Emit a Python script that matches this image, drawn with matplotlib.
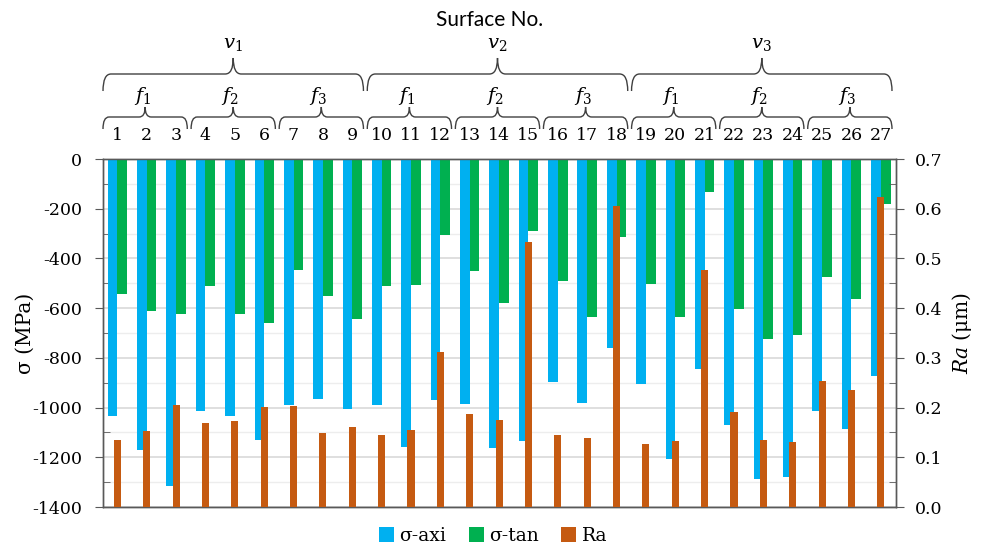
import numpy as np
import matplotlib.pyplot as plt
from matplotlib.path import Path
from matplotlib.patches import PathPatch
from matplotlib.transforms import blended_transform_factory

plt.rcParams['font.family'] = 'DejaVu Serif'
plt.rcParams['mathtext.fontset'] = 'dejavuserif'
plt.rcParams['axes.unicode_minus'] = False

# data
surfaces = [str(i) for i in range(1, 28)]
sigma_axi = [-1033, -1169, -1316, -1012, -1035, -1131, -989, -967, -1007,
             -988, -1158, -969, -984, -1162, -1135, -898, -981, -759,
             -905, -1205, -845, -1071, -1286, -1278, -1015, -1086, -874]
sigma_tan = [-545, -610, -625, -512, -625, -661, -448, -552, -643,
             -512, -505, -305, -450, -581, -289, -489, -635, -313,
             -502, -635, -134, -605, -726, -707, -475, -564, -182]
ra = [0.135, 0.152, 0.205, 0.168, 0.173, 0.202, 0.203, 0.148, 0.160,
      0.145, 0.155, 0.312, 0.187, 0.176, 0.534, 0.145, 0.138, 0.605,
      0.126, 0.132, 0.477, 0.192, 0.135, 0.131, 0.253, 0.235, 0.623]
f_labels = ['$f_1$', '$f_2$', '$f_3$'] * 3
v_labels = ['$v_1$', '$v_2$', '$v_3$']

c_axi = '#00B0F0'
c_tan = '#00B050'
c_ra = '#C55A11'

W, H = 983, 547
fig = plt.figure(figsize=(W / 100, H / 100), dpi=100)
ax = fig.add_axes([102.7 / W, 40 / H, 792.8 / W, 348 / H])
ax2 = ax.twinx()

x = np.arange(len(surfaces))
bw = 0.33
ax.bar(x - bw / 2, sigma_axi, bw, color=c_axi, label='σ-axi', zorder=3)
ax.bar(x + bw / 2, sigma_tan, bw, color=c_tan, label='σ-tan', zorder=3)
ax2.bar(x, ra, 0.24, color=c_ra, label='Ra', zorder=3)

ax.set_xlim(-0.5, 26.5)
ax.set_ylim(-1400, 0)
ax2.set_ylim(0, 0.7)
ax.set_xticks([])
ax.set_yticks(np.arange(-1400, 1, 200))
ax.set_yticks(np.arange(-1300, 0, 200), minor=True)
ax2.set_yticks(np.arange(0, 0.71, 0.1))
ax2.set_yticks(np.arange(0.05, 0.7, 0.1), minor=True)
ax2.set_yticklabels([f'{v:.1f}' for v in np.arange(0, 0.71, 0.1)])

ax.grid(axis='y', which='major', color='#D9D9D9', lw=1.2, zorder=0)
ax.grid(axis='y', which='minor', color='#EDEDED', lw=1.0, zorder=0)
ax.set_axisbelow(True)

for a in (ax, ax2):
    for s in a.spines.values():
        s.set_color('#595959')
        s.set_linewidth(1.0)
ax.tick_params(axis='y', which='major', direction='out', length=6, color='#595959',
               labelsize=12.5, pad=9)
ax.tick_params(axis='y', which='minor', direction='in', length=5, color='#595959')
ax2.tick_params(axis='y', which='major', direction='out', length=6, color='#595959',
                labelsize=12.5, pad=8)
ax2.tick_params(axis='y', which='minor', direction='in', length=5, color='#595959')

ax.set_ylabel('σ (MPa)', fontsize=14.5)
ax.yaxis.set_label_coords(-0.0854, 0.5)
ax2.set_ylabel(r'$Ra$ (μm)', fontsize=14.5)
ax2.yaxis.set_label_coords(1.069, 0.5)

# header: surface numbers and braces
trans = blended_transform_factory(ax.transData, fig.transFigure)
px = 792.8 / 27  # pixels per category


def fy(p):
    return 1 - p / H


def brace(x0, x1, y_end, y_h, y_tip, r):
    rx = r / px
    xm = (x0 + x1) / 2
    verts = [(x0, fy(y_end)), (x0, fy(y_h)), (x0 + rx, fy(y_h)),
             (xm - rx, fy(y_h)), (xm, fy(y_h)), (xm, fy(y_tip)),
             (xm, fy(y_h)), (xm + rx, fy(y_h)),
             (x1 - rx, fy(y_h)), (x1, fy(y_h)), (x1, fy(y_end))]
    codes = [Path.MOVETO, Path.CURVE3, Path.CURVE3,
             Path.LINETO, Path.CURVE3, Path.CURVE3,
             Path.CURVE3, Path.CURVE3,
             Path.LINETO, Path.CURVE3, Path.CURVE3]
    fig.add_artist(PathPatch(Path(verts, codes), transform=trans, fill=False,
                             edgecolor='#404040', lw=1.0))


for i, s in enumerate(surfaces):
    fig.text(x[i], fy(135), s, transform=trans, ha='center', va='center',
             fontsize=12.5)

for k, lab in enumerate(f_labels):
    x0 = 3 * k - 0.5 + 0.3 / px
    x1 = 3 * k + 2.5 - 3.5 / px
    brace(x0, x1, 129, 117, 107, 6)
    fig.text((x0 + x1) / 2 - 0.1, fy(96), lab, transform=trans, ha='center',
             va='center', fontsize=14)

for k, lab in enumerate(v_labels):
    x0 = 9 * k - 0.5 + 0.3 / px
    x1 = 9 * k + 8.5 - 3.5 / px
    brace(x0, x1, 91, 74, 58, 8)
    fig.text((x0 + x1) / 2, fy(44), lab, transform=trans, ha='center',
             va='center', fontsize=14)

fig.text(490 / W, fy(20), 'Surface No.', ha='center', va='center',
         fontsize=15, family='Lato')

h1, l1 = ax.get_legend_handles_labels()
h2, l2 = ax2.get_legend_handles_labels()
fig.legend(h1 + h2, l1 + l2, loc='center', bbox_to_anchor=(493 / W, fy(536)),
           ncol=3, frameon=False, fontsize=13.5, handlelength=0.8,
           handleheight=0.8, handletextpad=0.3, columnspacing=1.2)

fig.savefig('out.png', dpi=100)
